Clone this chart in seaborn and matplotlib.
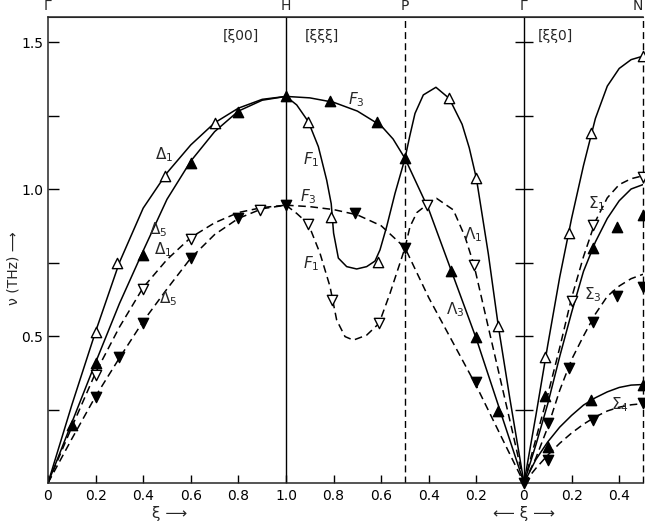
import matplotlib
matplotlib.use("Agg")
import matplotlib.pyplot as plt
import seaborn as sns
import pandas as pd

# ---- data (reduced wave vector xi, frequency nu in THz) ----

# [xi 0 0]  Gamma -> H
xi_gh = [0.0, 0.1, 0.2, 0.3, 0.4, 0.5, 0.6, 0.7, 0.8, 0.9, 1.0]
d1_solid = [0.0, 0.265, 0.515, 0.75, 0.935, 1.055, 1.15, 1.225, 1.275, 1.305, 1.315]
d5_solid = [0.0, 0.205, 0.41, 0.61, 0.79, 0.965, 1.095, 1.195, 1.265, 1.302, 1.315]
d1_dash = [0.0, 0.19, 0.375, 0.53, 0.665, 0.76, 0.835, 0.885, 0.92, 0.937, 0.945]
d5_dash = [0.0, 0.15, 0.295, 0.425, 0.55, 0.66, 0.765, 0.845, 0.90, 0.933, 0.945]

gh_open_up_xi = [0.2, 0.29, 0.49, 0.7]
gh_open_up_nu = [0.515, 0.747, 1.045, 1.223]
gh_fill_up_xi = [0.1, 0.2, 0.4, 0.6, 0.8, 1.0]
gh_fill_up_nu = [0.197, 0.407, 0.776, 1.087, 1.261, 1.315]
gh_open_dn_xi = [0.2, 0.4, 0.6, 0.89]
gh_open_dn_nu = [0.367, 0.659, 0.829, 0.929]
gh_fill_dn_xi = [0.2, 0.3, 0.4, 0.6, 0.8, 1.0]
gh_fill_dn_nu = [0.294, 0.43, 0.545, 0.764, 0.90, 0.945]

# [xi xi xi]  H -> P -> Gamma  (xi runs 1 -> 0)
f1_solid_xi = [1.0, 0.955, 0.906, 0.864, 0.829, 0.81, 0.80, 0.78, 0.745, 0.703, 0.661,
               0.626, 0.605, 0.577, 0.542, 0.5, 0.48, 0.458, 0.423, 0.37, 0.314, 0.26,
               0.23, 0.2, 0.15, 0.108, 0.06, 0.0]
f1_solid_nu = [1.315, 1.286, 1.229, 1.144, 1.03, 0.95, 0.85, 0.765, 0.736, 0.728, 0.736,
               0.755, 0.793, 0.872, 0.985, 1.104, 1.18, 1.257, 1.32, 1.346, 1.308, 1.22,
               1.14, 1.036, 0.78, 0.534, 0.29, 0.0]
f3_solid_xi = [1.0, 0.9, 0.8, 0.7, 0.6, 0.55, 0.5, 0.4, 0.3, 0.2, 0.1, 0.0]
f3_solid_nu = [1.315, 1.31, 1.295, 1.265, 1.215, 1.17, 1.104, 0.93, 0.71, 0.49, 0.245, 0.0]
f3_dash_xi = [1.0, 0.9, 0.8, 0.7, 0.6, 0.5, 0.4, 0.3, 0.2, 0.1, 0.0]
f3_dash_nu = [0.945, 0.94, 0.93, 0.912, 0.875, 0.80, 0.63, 0.48, 0.33, 0.165, 0.0]
f1_dash_xi = [1.0, 0.955, 0.906, 0.857, 0.815, 0.787, 0.752, 0.717, 0.661, 0.609, 0.563,
              0.5, 0.479, 0.45, 0.409, 0.367, 0.297, 0.248, 0.21, 0.15, 0.1, 0.05, 0.0]
f1_dash_nu = [0.945, 0.917, 0.881, 0.781, 0.668, 0.554, 0.498, 0.486, 0.503, 0.543, 0.645,
              0.80, 0.872, 0.92, 0.946, 0.968, 0.929, 0.838, 0.741, 0.53, 0.355, 0.18, 0.0]

hp_open_up_xi = [0.906, 0.811, 0.615, 0.314, 0.202, 0.108]
hp_open_up_nu = [1.229, 0.906, 0.753, 1.308, 1.036, 0.534]
hp_fill_up_xi = [0.815, 0.616, 0.5, 0.308, 0.202, 0.108]
hp_fill_up_nu = [1.30, 1.229, 1.104, 0.722, 0.498, 0.245]
hp_open_dn_xi = [0.906, 0.805, 0.609, 0.409, 0.21]
hp_open_dn_nu = [0.881, 0.622, 0.543, 0.946, 0.741]
hp_fill_dn_xi = [0.71, 0.5, 0.202]
hp_fill_dn_nu = [0.919, 0.80, 0.345]

# [xi xi 0]  Gamma -> N
xi_gn = [0.0, 0.05, 0.1, 0.15, 0.2, 0.25, 0.3, 0.35, 0.4, 0.45, 0.5]
s_top_solid = [0.0, 0.23, 0.47, 0.70, 0.90, 1.08, 1.24, 1.35, 1.41, 1.44, 1.452]
s1_dash = [0.0, 0.15, 0.30, 0.46, 0.63, 0.77, 0.89, 0.97, 1.015, 1.035, 1.045]
s1_solid = [0.0, 0.13, 0.27, 0.43, 0.58, 0.72, 0.82, 0.90, 0.96, 1.0, 1.015]
s3_dash = [0.0, 0.085, 0.19, 0.315, 0.42, 0.50, 0.575, 0.635, 0.67, 0.695, 0.71]
s4_solid = [0.0, 0.08, 0.14, 0.19, 0.23, 0.265, 0.29, 0.31, 0.325, 0.333, 0.335]
s4_dash = [0.0, 0.05, 0.095, 0.135, 0.17, 0.20, 0.225, 0.245, 0.258, 0.266, 0.27]

gn_open_up_xi = [0.09, 0.19, 0.28, 0.5]
gn_open_up_nu = [0.427, 0.851, 1.189, 1.452]
gn_fill_up_xi = [0.09, 0.29, 0.39, 0.5, 0.1, 0.28, 0.5]
gn_fill_up_nu = [0.297, 0.798, 0.872, 0.912, 0.124, 0.282, 0.333]
gn_open_dn_xi = [0.2, 0.29, 0.5]
gn_open_dn_nu = [0.62, 0.878, 1.042]
gn_fill_dn_xi = [0.1, 0.19, 0.29, 0.39, 0.5, 0.1, 0.29, 0.5, 0.0]
gn_fill_dn_nu = [0.205, 0.39, 0.549, 0.636, 0.666, 0.078, 0.214, 0.271, 0.0]


# position along the plotted path: G-H is 0..1, H-P-G is 1..2, G-N is 2..2.5
def pos(seg, xi):
    if seg == "gh":
        return list(xi)
    if seg == "hp":
        return [2.0 - v for v in xi]
    return [2.0 + v for v in xi]


curves = [
    ("gh", "d1s", xi_gh, d1_solid, "solid"),
    ("gh", "d5s", xi_gh, d5_solid, "solid"),
    ("gh", "d1d", xi_gh, d1_dash, "dashed"),
    ("gh", "d5d", xi_gh, d5_dash, "dashed"),
    ("hp", "f1s", f1_solid_xi, f1_solid_nu, "solid"),
    ("hp", "f3s", f3_solid_xi, f3_solid_nu, "solid"),
    ("hp", "f3d", f3_dash_xi, f3_dash_nu, "dashed"),
    ("hp", "f1d", f1_dash_xi, f1_dash_nu, "dashed"),
    ("gn", "stop", xi_gn, s_top_solid, "solid"),
    ("gn", "s1d", xi_gn, s1_dash, "dashed"),
    ("gn", "s1s", xi_gn, s1_solid, "solid"),
    ("gn", "s3d", xi_gn, s3_dash, "dashed"),
    ("gn", "s4s", xi_gn, s4_solid, "solid"),
    ("gn", "s4d", xi_gn, s4_dash, "dashed"),
]
rows = []
for seg, name, xi, nu, kind in curves:
    for x, y in zip(pos(seg, xi), nu):
        rows.append({"X": x, "nu": y, "branch": name, "kind": kind})
lines_df = pd.DataFrame(rows)

points = [
    ("gh", gh_open_up_xi, gh_open_up_nu, "open_up"),
    ("gh", gh_fill_up_xi, gh_fill_up_nu, "fill_up"),
    ("gh", gh_open_dn_xi, gh_open_dn_nu, "open_dn"),
    ("gh", gh_fill_dn_xi, gh_fill_dn_nu, "fill_dn"),
    ("hp", hp_open_up_xi, hp_open_up_nu, "open_up"),
    ("hp", hp_fill_up_xi, hp_fill_up_nu, "fill_up"),
    ("hp", hp_open_dn_xi, hp_open_dn_nu, "open_dn"),
    ("hp", hp_fill_dn_xi, hp_fill_dn_nu, "fill_dn"),
    ("gn", gn_open_up_xi, gn_open_up_nu, "open_up"),
    ("gn", gn_fill_up_xi, gn_fill_up_nu, "fill_up"),
    ("gn", gn_open_dn_xi, gn_open_dn_nu, "open_dn"),
    ("gn", gn_fill_dn_xi, gn_fill_dn_nu, "fill_dn"),
]
prow = []
for seg, xi, nu, kind in points:
    for x, y in zip(pos(seg, xi), nu):
        prow.append({"X": x, "nu": y, "kind": kind})
pts_df = pd.DataFrame(prow)

# ---- plot ----
sns.set_style("ticks")
plt.rcParams["font.family"] = ["DejaVu Sans"]
plt.rcParams["mathtext.fontset"] = "dejavusans"

fig = plt.figure(figsize=(6.45, 5.22), dpi=100)
ax = fig.add_axes([0.0744, 0.0747, 0.9225, 0.8927])

sns.lineplot(data=lines_df, x="X", y="nu", units="branch", style="kind",
             estimator=None, sort=False, color="black", linewidth=1.1,
             dashes={"solid": "", "dashed": (5, 3)}, legend=False, ax=ax)

marker_style = {
    "open_up": ("^", "white"),
    "fill_up": ("^", "black"),
    "open_dn": ("v", "white"),
    "fill_dn": ("v", "black"),
}
for kind, (mk, fc) in marker_style.items():
    sub = pts_df[pts_df["kind"] == kind]
    sns.scatterplot(data=sub, x="X", y="nu", marker=mk, s=55, color=fc,
                    edgecolor="black", linewidth=1.0, zorder=4, ax=ax,
                    clip_on=False)

# symmetry point lines
ax.axvline(1.0, color="black", lw=1.0)
ax.axvline(2.0, color="black", lw=1.0)
ax.axvline(1.5, color="black", lw=1.0, dashes=(5, 3))
ax.axvline(2.5, color="black", lw=1.0, dashes=(5, 3), clip_on=False)
gamma_ticks = [0.25, 0.5, 0.75, 1.0, 1.25, 1.5]
ax.hlines(gamma_ticks, 1.962, 2.038, color="black", lw=1.0)

ax.set_xlim(0, 2.5)
ax.set_ylim(0, 1.585)

x_tick_pos = [0, 0.2, 0.4, 0.6, 0.8, 1.0, 1.2, 1.4, 1.6, 1.8, 2.0, 2.2, 2.4]
x_tick_lab = ["0", "0.2", "0.4", "0.6", "0.8", "1.0", "0.8", "0.6", "0.4", "0.2",
              "0", "0.2", "0.4"]
ax.set_xticks(x_tick_pos, x_tick_lab)
ax.set_yticks([0.5, 1.0, 1.5], ["0.5", "1.0", "1.5"])
ax.set_yticks([0.25, 0.75, 1.25], minor=True)
ax.tick_params(axis="both", which="both", direction="in", length=8, width=1.0,
               labelsize=10, colors="black")
ax.tick_params(axis="x", length=6, pad=4)
ax.spines["right"].set_visible(False)
for sp in ["left", "bottom", "top"]:
    ax.spines[sp].set_linewidth(1.1)
ax.set_xlabel("")
ax.set_ylabel("")

# symmetry point names on top
sym_pos = [0, 1.0, 1.5, 2.0, 2.5]
sym_lab = ["Γ", "H", "P", "Γ", "N"]
top = ax.secondary_xaxis("top")
top.set_xticks(sym_pos, sym_lab)
top.tick_params(length=0, pad=3, labelsize=10)
top.get_xticklabels()[-1].set_horizontalalignment("right")

# direction labels
ax.text(0.81, 1.52, "[ξ00]", ha="center", va="center", fontsize=10)
ax.text(1.15, 1.52, "[ξξξ]", ha="center", va="center", fontsize=10)
ax.text(2.13, 1.52, "[ξξ0]", ha="center", va="center", fontsize=10)

# branch labels
branch_labels = [
    (0.49, 1.116, r"$\Delta_1$"), (0.462, 0.861, r"$\Delta_5$"),
    (0.483, 0.793, r"$\Delta_1$"), (0.507, 0.628, r"$\Delta_5$"),
    (1.297, 1.303, r"$F_3$"), (1.108, 1.099, r"$F_1$"),
    (1.094, 0.974, r"$F_3$"), (1.108, 0.747, r"$F_1$"),
    (1.787, 0.844, r"$\Lambda_1$"), (1.71, 0.588, r"$\Lambda_3$"),
    (2.305, 0.951, r"$\Sigma_1$"), (2.291, 0.639, r"$\Sigma_3$"),
    (2.403, 0.265, r"$\Sigma_4$"),
]
for x, y, t in branch_labels:
    ax.text(x, y, t, ha="center", va="center", fontsize=11)

ax.text(-0.058, 0.46, "ν (THz) ⟶", rotation=90, ha="center", va="center",
        fontsize=10, transform=ax.transAxes)
ax.text(0.51, -0.066, "ξ ⟶", ha="center", va="center", fontsize=11,
        transform=ax.get_xaxis_transform())
ax.text(2.0, -0.066, "⟵ ξ ⟶", ha="center", va="center", fontsize=11,
        transform=ax.get_xaxis_transform())

fig.savefig("out.png", dpi=100)
